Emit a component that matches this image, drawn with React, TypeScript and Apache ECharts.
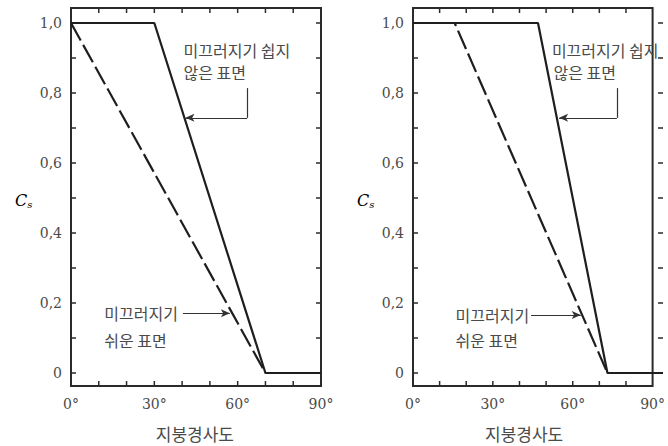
import React, { useEffect, useRef } from 'react';
import * as echarts from 'echarts';

// ---- data ----
const xMin = 0;
const xMax = 90;
const xTickStep = 10;
const xLabelEvery = 30;
const yMin = 0;
const yMax = 1;
const yTickStep = 0.1;
const xTickValues = [10, 20, 30, 40, 50, 60, 70, 80];
const yTickValues = [0, 0.1, 0.2, 0.3, 0.4, 0.5, 0.6, 0.7, 0.8, 0.9, 1.0];

const leftSolidX = [0, 30, 70, 90];
const leftSolidY = [1, 1, 0, 0];
const leftDashedX = [0, 70];
const leftDashedY = [1, 0];

const rightSolidX = [0, 45, 70, 90];
const rightSolidY = [1, 1, 0, 0];
const rightDashedX = [0, 15, 70];
const rightDashedY = [1, 1, 0];

// leader lines (data coords): start -> corner -> arrow tip
const leftUpperLeader = [[63.4, 0.814], [63.4, 0.729], [41.2, 0.729]];
const leftLowerLeader = [[40.3, 0.171], [57.2, 0.171]];
const rightUpperLeader = [[73.4, 0.814], [73.4, 0.729], [52.6, 0.729]];
const rightLowerLeader = [[42.5, 0.166], [60.4, 0.166]];

const textSlippery = ['미끄러지기', '쉬운 표면'];
const textNotSlippery = ['미끄러지기 쉽지', '않은 표면'];
const xName = '지붕경사도';

const zip = (xs: number[], ys: number[]) => xs.map((x, i) => [x, ys[i]]);

const frameColor = '#2a2a2a';
const lineColor = '#1e1e1e';
const textColor = '#4a4a4a';
const tickLen = 5;

function App() {
  const ref = useRef<HTMLDivElement>(null);
  useEffect(() => {
    document.body.style.margin = '0';
    if (!ref.current) return;
    const chart = echarts.init(ref.current, undefined, { renderer: 'svg' });

    // grids 0,1: outer frames; grids 2,3: inner plot areas (y 0..1)
    const panelLeft = [71, 413];
    const grids: any[] = [];
    panelLeft.forEach((l) =>
      grids.push({
        left: l, top: 8, width: 250, height: 378,
        show: true, borderColor: frameColor, borderWidth: 2, backgroundColor: 'transparent',
      })
    );
    panelLeft.forEach((l) => grids.push({ left: l, top: 23, width: 250, height: 350 }));

    const xAxes: any[] = [];
    const yAxes: any[] = [];
    // outer axes (index 0,1)
    [0, 1].forEach((gi) => {
      xAxes.push({
        type: 'value', gridIndex: gi, min: xMin, max: xMax, interval: xTickStep,
        position: 'bottom',
        splitLine: { show: false },
        axisLine: { show: false, onZero: false },
        axisTick: { show: false },
        axisLabel: {
          show: true, margin: 11, color: textColor, fontFamily: 'DejaVu Serif', fontSize: 14,
          formatter: (v: number) => (Math.round(v) % xLabelEvery === 0 ? Math.round(v) + '°' : ''),
        },
      });
      yAxes.push({
        type: 'value', gridIndex: gi, min: 0, max: 1, show: false,
      });
    });
    // inner axes (index 2,3)
    [2, 3].forEach((gi) => {
      xAxes.push({ type: 'value', gridIndex: gi, min: xMin, max: xMax, show: false });
      yAxes.push({
        type: 'value', gridIndex: gi, min: yMin, max: yMax, interval: yTickStep,
        position: 'left',
        splitLine: { show: false },
        axisLine: { show: false, onZero: false },
        axisTick: { show: false },
        axisLabel: {
          show: true, margin: 9, color: textColor, fontFamily: 'DejaVu Serif', fontSize: 14,
          formatter: (v: number) => {
            const k = Math.round(v * 10);
            if (k % 2 !== 0) return '';
            return k === 0 ? '0' : (k / 10).toFixed(1).replace('.', ',');
          },
        },
      });
    });

    const leader = (pts: number[][]) => {
      const segs: any[] = [];
      for (let i = 0; i < pts.length - 1; i++) {
        const last = i === pts.length - 2;
        segs.push([
          { coord: pts[i], symbol: 'none' },
          { coord: pts[i + 1], symbol: last ? 'arrow' : 'none', symbolSize: [6, 9] },
        ]);
      }
      return segs;
    };

    const markLineFor = (leaders: number[][][]) => ({
      silent: true,
      animation: false,
      symbol: ['none', 'arrow'],
      symbolSize: [6, 9],
      label: { show: false },
      lineStyle: { color: '#333', width: 1.2, type: 'solid' },
      emphasis: { disabled: true },
      data: leaders.flatMap(leader),
    });

    const tickStyle = { stroke: frameColor, lineWidth: 1.5 };
    const xTickSeries = (axisIdx: number) => ({
      type: 'custom',
      xAxisIndex: axisIdx,
      yAxisIndex: axisIdx,
      silent: true,
      data: xTickValues.map((v) => [v, 0]),
      renderItem: (params: any, api: any) => {
        const v = api.value(0);
        const b = api.coord([v, 0]);
        const t = api.coord([v, 1]);
        return {
          type: 'group',
          children: [
            { type: 'line', shape: { x1: b[0], y1: b[1], x2: b[0], y2: b[1] - tickLen }, style: tickStyle },
            { type: 'line', shape: { x1: t[0], y1: t[1], x2: t[0], y2: t[1] + tickLen }, style: tickStyle },
          ],
        };
      },
    });
    const yTickSeries = (axisIdx: number) => ({
      type: 'custom',
      xAxisIndex: axisIdx,
      yAxisIndex: axisIdx,
      silent: true,
      clip: false,
      data: yTickValues.map((v) => [0, v]),
      renderItem: (params: any, api: any) => {
        const v = api.value(1);
        const l = api.coord([xMin, v]);
        const r = api.coord([xMax, v]);
        return {
          type: 'group',
          children: [
            { type: 'line', shape: { x1: l[0], y1: l[1], x2: l[0] + tickLen, y2: l[1] }, style: tickStyle },
            { type: 'line', shape: { x1: r[0], y1: r[1], x2: r[0] - tickLen, y2: r[1] }, style: tickStyle },
          ],
        };
      },
    });

    const solidStyle = { color: lineColor, width: 2.2, type: 'solid' };
    const dashedStyle = { color: lineColor, width: 2.2, type: [20, 5] };

    const series: any[] = [
      xTickSeries(0),
      xTickSeries(1),
      yTickSeries(2),
      yTickSeries(3),
      {
        type: 'line', xAxisIndex: 2, yAxisIndex: 2, data: zip(leftSolidX, leftSolidY),
        symbol: 'none', clip: false, lineStyle: solidStyle,
        markLine: markLineFor([leftUpperLeader, leftLowerLeader]),
      },
      {
        type: 'line', xAxisIndex: 2, yAxisIndex: 2, data: zip(leftDashedX, leftDashedY),
        symbol: 'none', clip: false, lineStyle: dashedStyle,
      },
      {
        type: 'line', xAxisIndex: 3, yAxisIndex: 3, data: zip(rightSolidX, rightSolidY),
        symbol: 'none', clip: false, lineStyle: solidStyle,
        markLine: markLineFor([rightUpperLeader, rightLowerLeader]),
      },
      {
        type: 'line', xAxisIndex: 3, yAxisIndex: 3, data: zip(rightDashedX, rightDashedY),
        symbol: 'none', clip: false, lineStyle: dashedStyle,
      },
    ];

    chart.setOption({
      animation: false,
      grid: grids,
      xAxis: xAxes,
      yAxis: yAxes,
      series,
    });

    const px = (panel: number, p: number[]) =>
      chart.convertToPixel({ xAxisIndex: panel + 2, yAxisIndex: panel + 2 }, p) as number[];

    const korean = 'Noto Sans CJK KR';
    const txt = (pos: number[], s: string, size = 16, align = 'left') => ({
      type: 'text',
      x: pos[0],
      y: pos[1],
      silent: true,
      style: {
        text: s,
        fill: textColor,
        font: `${size}px "${korean}"`,
        align,
        verticalAlign: 'middle',
      },
    });

    const graphics: any[] = [];
    graphics.push(txt(px(0, [40.5, 0.923]), textNotSlippery[0]));
    graphics.push(txt(px(0, [40.5, 0.86]), textNotSlippery[1]));
    graphics.push(txt(px(0, [12.0, 0.171]), textSlippery[0]));
    graphics.push(txt(px(0, [12.0, 0.094]), textSlippery[1]));
    graphics.push(txt(px(1, [50.0, 0.923]), textNotSlippery[0]));
    graphics.push(txt(px(1, [50.6, 0.86]), textNotSlippery[1]));
    graphics.push(txt(px(1, [15.3, 0.166]), textSlippery[0]));
    graphics.push(txt(px(1, [15.3, 0.094]), textSlippery[1]));

    [0, 1].forEach((panel) => {
      const base = px(panel, [panel === 0 ? 44.6 : 40, 0]);
      graphics.push(txt([base[0], 433], xName, 17, 'center'));
      const yPos = px(panel, [0, 0.494]);
      graphics.push({
        type: 'text',
        x: yPos[0] - 56,
        y: yPos[1],
        silent: true,
        style: {
          text: '{c|C}{s|s}',
          verticalAlign: 'middle',
          rich: {
            c: { fontFamily: 'DejaVu Serif', fontStyle: 'italic', fontSize: 16, color: textColor },
            s: { fontFamily: 'DejaVu Serif', fontStyle: 'italic', fontSize: 10, color: textColor, padding: [8, 0, 0, 0] },
          },
        },
      });
    });

    chart.setOption({ graphic: graphics });

    return () => chart.dispose();
  }, []);
  return <div ref={ref} style={{ width: 668, height: 446 }} />;
}

export default App;
